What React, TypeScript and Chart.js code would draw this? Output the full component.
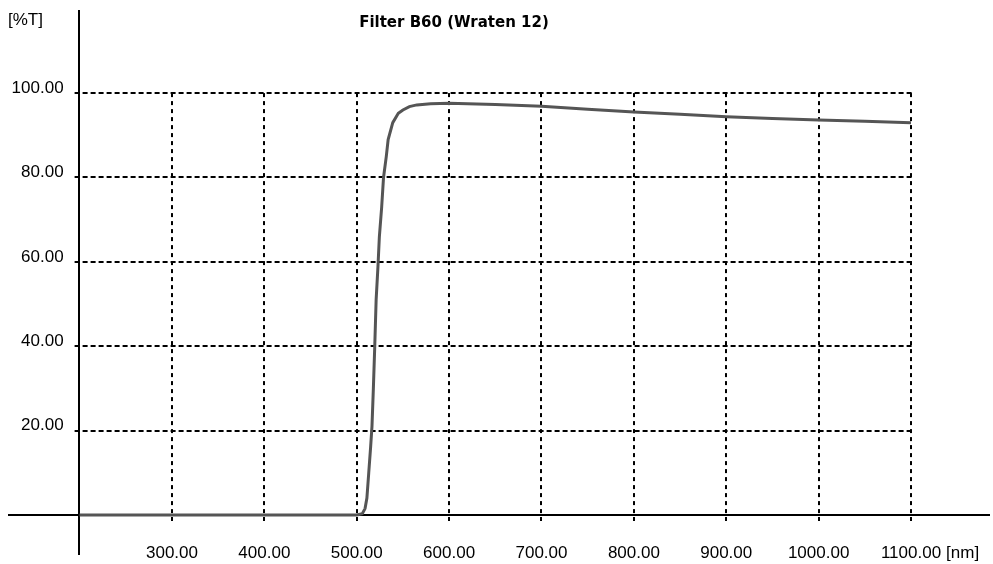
import React, { useEffect, useRef } from "react";
import { Chart, registerables } from "chart.js";

Chart.register(...registerables);

const TITLE = "Filter B60 (Wraten 12)";
const Y_UNIT = "[%T]";
const X_UNIT = "[nm]";

const wavelengths = [
  200, 300, 400, 500, 506, 509, 511, 513, 515, 516.5, 518, 519.5, 521, 523, 524.5, 527, 529, 532, 534, 539,
  545, 550, 557, 565, 580, 600, 650, 700, 750, 800, 850, 900, 950, 1000, 1050, 1100,
];
const transmission = [
  0, 0, 0, 0, 0.3, 1.5, 4, 10, 16, 21, 30, 40, 51, 59, 66, 73, 80, 85, 89, 93,
  95.2, 96.0, 96.8, 97.2, 97.5, 97.6, 97.3, 96.9, 96.2, 95.5, 95.0, 94.4, 94.0, 93.6, 93.3, 93.0,
];

const xTicks = [300, 400, 500, 600, 700, 800, 900, 1000, 1100];
const yTicks = [20, 40, 60, 80, 100];

const X_MIN = 200;
const X_MAX = 1185.5;
const Y_MIN = -9.5;
const Y_MAX = 119.7;
const GRID_X_END = 1100;
const GRID_Y_END = 100;

const LABEL_FONT = '17px "Liberation Sans", Arial, sans-serif';
const TITLE_FONT = 'bold 15px "DejaVu Sans", Verdana, sans-serif';

const overlayPlugin = {
  id: "overlay",
  beforeDatasetsDraw(chart: any) {
    const ctx = chart.ctx;
    const xs = chart.scales.x;
    const ys = chart.scales.y;
    const x0 = xs.getPixelForValue(X_MIN);
    const xEnd = xs.getPixelForValue(GRID_X_END);
    const y0 = ys.getPixelForValue(0);
    const yTop = ys.getPixelForValue(GRID_Y_END);
    ctx.save();
    ctx.strokeStyle = "#000";
    ctx.lineWidth = 2;
    ctx.setLineDash([5, 3]);
    for (const v of yTicks) {
      const y = Math.round(ys.getPixelForValue(v));
      ctx.beginPath();
      ctx.moveTo(x0 - 5, y);
      ctx.lineTo(xEnd + 1, y);
      ctx.stroke();
    }
    ctx.setLineDash([4, 4]);
    for (const v of xTicks) {
      const x = Math.round(xs.getPixelForValue(v));
      ctx.beginPath();
      ctx.moveTo(x, yTop);
      ctx.lineTo(x, y0 + 6);
      ctx.stroke();
    }
    ctx.setLineDash([]);
    ctx.lineWidth = 2;
    const ax = Math.round(x0) - 1;
    ctx.beginPath();
    ctx.moveTo(ax, chart.chartArea.top);
    ctx.lineTo(ax, chart.chartArea.bottom);
    ctx.stroke();
    const ay = Math.round(y0);
    ctx.beginPath();
    ctx.moveTo(8, ay);
    ctx.lineTo(chart.chartArea.right, ay);
    ctx.stroke();
    ctx.restore();
  },
  afterDraw(chart: any) {
    const ctx = chart.ctx;
    const xs = chart.scales.x;
    const ys = chart.scales.y;
    const x0 = xs.getPixelForValue(X_MIN);
    const y0 = ys.getPixelForValue(0);
    ctx.save();
    ctx.fillStyle = "#000";
    ctx.font = LABEL_FONT;
    ctx.textBaseline = "middle";
    ctx.textAlign = "right";
    for (const v of yTicks) {
      ctx.fillText(v.toFixed(2), x0 - 16, ys.getPixelForValue(v) - 5);
    }
    ctx.textAlign = "center";
    let lastRight = 0;
    for (const v of xTicks) {
      const t = v.toFixed(2);
      const x = xs.getPixelForValue(v);
      ctx.fillText(t, x, y0 + 38);
      lastRight = x + ctx.measureText(t).width / 2;
    }
    ctx.textAlign = "left";
    ctx.fillText(X_UNIT, lastRight + 5, y0 + 38);
    ctx.fillText(Y_UNIT, 8, 20);
    ctx.font = TITLE_FONT;
    ctx.textAlign = "center";
    ctx.fillText(TITLE, 454, 23);
    ctx.restore();
  },
};

export default function App() {
  const ref = useRef<HTMLCanvasElement | null>(null);
  useEffect(() => {
    if (!ref.current) return;
    const chart = new Chart(ref.current, {
      type: "scatter",
      data: {
        datasets: [
          {
            data: wavelengths.map((w, i) => ({ x: w, y: transmission[i] })),
            showLine: true,
            borderColor: "#555555",
            borderWidth: 3,
            pointRadius: 0,
            tension: 0,
            clip: false as any,
          },
        ],
      },
      options: {
        animation: false,
        responsive: false,
        devicePixelRatio: 1,
        layout: { padding: { left: 79.6, right: 3, top: 10, bottom: 9 } },
        plugins: { legend: { display: false }, tooltip: { enabled: false }, title: { display: false } },
        scales: {
          x: { type: "linear", min: X_MIN, max: X_MAX, display: false },
          y: { type: "linear", min: Y_MIN, max: Y_MAX, display: false },
        },
      },
      plugins: [overlayPlugin],
    });
    return () => chart.destroy();
  }, []);
  return (
    <div style={{ position: "fixed", left: 0, top: 0, width: 993, height: 564, background: "#fff" }}>
      <canvas ref={ref} width={993} height={564} style={{ display: "block" }} />
    </div>
  );
}
